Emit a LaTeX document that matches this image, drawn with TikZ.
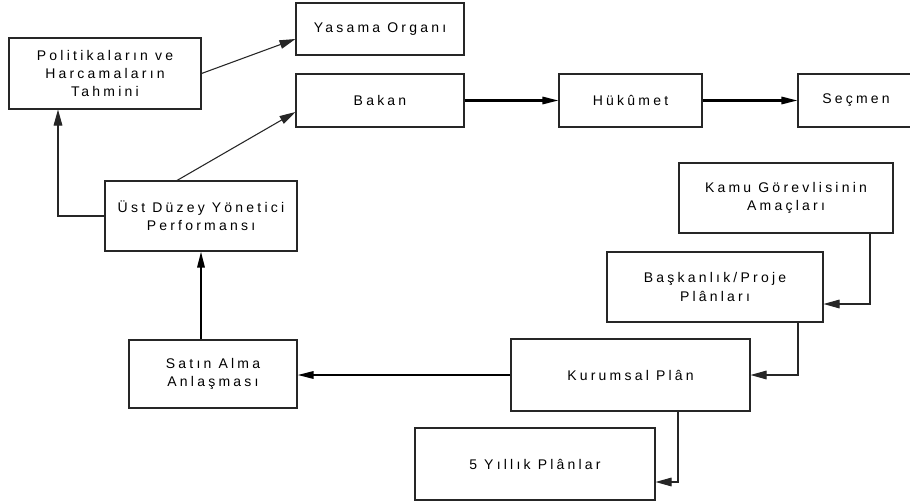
\documentclass[tikz,border=0pt]{standalone}
\usepackage{fontspec}
\setmainfont{Liberation Sans}[LetterSpace=23]
\usetikzlibrary{arrows.meta,calc}
\tikzset{
  box/.style={draw=black!85, line width=0.8pt, inner sep=0pt, align=center,
    font=\fontsize{10.5pt}{13.8pt}\selectfont},
  dim/.style 2 args={minimum width=#1*0.75pt, minimum height=#2*0.75pt},
  thinarr/.style={draw=black!85, line width=0.8pt, -{Triangle[length=12pt,width=6.5pt]}},
  thickarr/.style={draw=black, line width=1.6pt, -{Triangle[length=12pt,width=5.5pt]}}
}
\begin{document}
\begin{tikzpicture}[x=0.75pt,y=-0.75pt]
\useasboundingbox[fill=white] (0,0) rectangle (910,503);
\node[box,dim={192}{71}] (P) at (105,73.5) {Politikaların ve\\Harcamaların\\Tahmini};
\node[box,dim={168}{52}] (Y) at (380,29) {Yasama Organı};
\node[box,dim={168}{53}] (B) at (380,100.5) {Bakan};
\node[box,dim={143}{53}] (H) at (630.5,100.5) {Hükûmet};
\node[box,dim={116}{53}] (S) at (856,100.5) {Seçmen};
\node[box,dim={192}{70}] (U) at (201,216) {Üst Düzey Yönetici\\Performansı};
\node[box,dim={168}{68}] (SA) at (213,374) {Satın Alma\\Anlaşması};
\node[box,dim={239}{72}] (K) at (630.5,375) {Kurumsal Plân};
\node[box,dim={240}{72}] (F) at (535,464) {5 Yıllık Plânlar};
\node[box,dim={214}{70}] (KG) at (786,198) {Kamu Görevlisinin\\Amaçları};
\node[box,dim={216}{70}] (BP) at (715,287) {Başkanlık/Proje\\Plânları};

\draw[thinarr] (P.east) -- ($(Y.west)+(0,10)$);
\draw[thinarr] ($(U.north)+(-24,0)$) -- ($(B.west)+(0,11.5)$);
\draw[thinarr] (U.west) -| ($(P.south)+(-47,0)$);
\draw[thickarr] (B.east) -- (H.west);
\draw[thickarr] (H.east) -- (S.west);
\draw[thickarr] (U.south |- SA.north) -- (U.south);
\draw[thickarr] (K.west) -- (K.west -| SA.east);
\draw[thinarr] ($(KG.south)+(84,0)$) |- ($(BP.east)+(0,17)$);
\draw[thinarr] ($(BP.south)+(83,0)$) |- (K.east);
\draw[thinarr] ($(K.south)+(47.5,0)$) |- ($(F.east)+(0,18)$);
\end{tikzpicture}
\end{document}
